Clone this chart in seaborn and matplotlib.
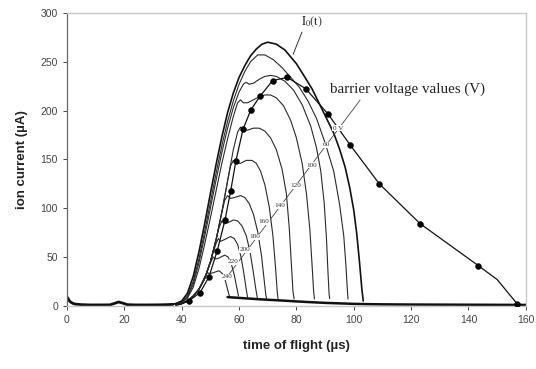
import matplotlib
matplotlib.use("Agg")
import matplotlib.pyplot as plt
import seaborn as sns

# flat baseline before the pulse (thick bundle of overlapping curves)
base_t = [0, 0.3, 1, 2, 3, 5, 8, 12, 15, 16.5, 18, 19.5, 21, 24, 28, 32, 35, 37]
base_y = [9, 8, 4.5, 2.6, 1.8, 1.3, 1.0, 1.0, 1.1, 2.5, 4.0, 2.8, 1.3, 1.0, 1.0, 1.1, 1.3, 1.6]

# common tail after the barrier cut-offs
tail_t = [56, 58, 60, 63, 66, 70, 75, 80, 85, 90, 95, 100, 105, 110, 120, 130, 140, 150, 160]
tail_y = [9, 8.6, 8.2, 7.6, 7.0, 6.3, 5.5, 4.6, 3.8, 3.1, 2.6, 2.1, 1.8, 1.6, 1.4, 1.3, 1.2, 1.1, 1.0]

# I0(t)
i0_t = [36, 38, 40, 42, 44, 46, 48, 50, 52, 54, 56, 58, 60, 62, 64, 66, 68, 70, 73, 76, 80, 83,
        85.5, 88, 91, 93, 95, 97, 98.6, 100, 101, 102, 102.8, 103.3]
i0_y = [1, 2.5, 5, 13, 30, 55, 84, 115, 145, 173, 198, 218, 234, 246, 256, 263, 268, 270, 268, 262,
        248, 234, 222, 207, 189, 177, 161, 142, 121, 98, 75, 45, 18, 5]

# barrier voltage curves, from 0 V to 240 V
c1_t = [38, 40, 42, 44, 46, 48, 50, 52, 54, 56, 58, 60, 62, 64, 66.5, 69, 72, 75, 78, 81, 84, 87,
        90, 93, 95, 96.5, 97.3, 97.8, 98]
c1_y = [2, 4, 10, 25, 48, 76, 106, 136, 164, 189, 210, 227, 240, 250, 257, 257, 252, 244, 234, 224,
        210, 192, 167, 138, 105, 72, 40, 15, 7]

c2_t = [38, 40, 42, 44, 46, 48, 50, 52, 54, 56, 58, 60, 61.5, 62.5, 63.5, 65, 67, 69, 71, 73, 76,
        79, 82, 85, 87, 88.5, 89.7, 90.5, 91, 91.4, 91.6]
c2_y = [1.5, 3.5, 9, 22, 44, 71, 100, 129, 157, 182, 203, 219, 227, 229, 227, 228, 232, 235, 236,
        235, 230, 221, 206, 184, 162, 138, 105, 68, 35, 12, 7.5]

c3_t = [38, 40, 42, 44, 46, 48, 50, 52, 54, 56, 58, 59.5, 60.5, 61.5, 63, 65, 67, 69, 71, 73, 75.5,
        78, 80, 82, 83.5, 84.7, 85.5, 86, 86.3]
c3_y = [1.5, 3, 8, 19, 38, 63, 90, 118, 146, 171, 194, 208, 211, 208, 208, 211, 214, 216, 216, 213,
        205, 190, 172, 146, 115, 78, 40, 15, 7]

c4_t = [38, 40, 42, 44, 46, 48, 50, 52, 54, 56, 58, 59.5, 60.5, 61.5, 63, 65, 67, 69, 71, 73, 75,
        76.5, 77.5, 78.3, 78.8, 79.2]
c4_y = [1, 2.5, 5, 10, 17, 28, 45, 68, 96, 128, 160, 178, 183, 180, 180, 182, 182, 179, 172, 160,
        140, 115, 80, 40, 15, 7]

c5_t = [38, 40, 42, 44, 46, 48, 50, 52, 54, 56, 57, 58, 59, 60.5, 62.5, 64.5, 66, 67.5, 69, 70.5,
        71.8, 72.7, 73.3, 73.6]
c5_y = [1, 2.5, 5, 10, 17, 28, 45, 68, 96, 128, 143, 149, 146, 146, 149, 149, 146, 138, 124, 102,
        72, 40, 15, 7]

c6_t = [38, 40, 42, 44, 46, 48, 50, 52, 54, 55, 56, 57, 58.5, 60.5, 62, 63.5, 65, 66.5, 67.8,
        68.7, 69.3, 69.6]
c6_y = [1, 2.5, 5, 10, 17, 28, 45, 68, 96, 108, 113, 110, 111, 113, 111, 105, 94, 76, 52, 28, 12, 7]

c7_t = [38, 40, 42, 44, 46, 48, 50, 52, 53, 54, 54.8, 56, 58, 59.5, 61, 62.5, 63.8, 64.9, 65.8, 66.4]
c7_y = [1, 2.5, 5, 10, 17, 28, 45, 68, 80, 87, 84, 85, 88, 87, 82, 72, 56, 36, 18, 8]

c8_t = [38, 40, 42, 44, 46, 48, 50, 51, 52, 52.8, 53.5, 55, 57, 58.3, 59.5, 60.7, 61.7, 62.5, 63]
c8_y = [1, 2.5, 5, 10, 17, 28, 45, 55, 64, 69, 66, 68, 71, 69, 63, 50, 33, 17, 8.5]

c9_t = [38, 40, 42, 44, 46, 48, 49, 50, 51, 51.8, 53, 55, 56.2, 57.3, 58.3, 59.2, 59.8]
c9_y = [1, 2.5, 5, 10, 17, 28, 36, 44, 50, 48, 49, 52, 50, 43, 32, 19, 10]

c10_t = [38, 40, 42, 44, 46, 47, 48, 49, 49.7, 51, 53, 54.2, 55.2, 56, 56.6]
c10_y = [1, 2.5, 5, 10, 17, 23, 30, 34, 33, 34, 36, 33, 26, 17, 10]

barrier_t = [c1_t, c2_t, c3_t, c4_t, c5_t, c6_t, c7_t, c8_t, c9_t, c10_t]
barrier_y = [c1_y, c2_y, c3_y, c4_y, c5_y, c6_y, c7_y, c8_y, c9_y, c10_y]

barrier_labels = ["0 V", "60", "100", "120", "140", "160", "180", "200", "220", "240"]
label_t = [94.5, 90.3, 85.4, 79.8, 74.2, 68.7, 65.5, 62.0, 57.9, 55.8]
label_y = [182, 165, 144, 123, 103, 86, 70.6, 57.3, 45, 29.7]

# curve with markers
dot_line_t = [38, 40, 42.6, 46.4, 49.5, 52.4, 55.1, 57.1, 58.9, 61.4, 64.1, 67.4, 71.7, 76.8, 83.2,
              91.0, 98.7, 108.9, 123.1, 143.4, 150, 157.1, 159]
dot_line_y = [0.5, 2, 5.4, 13.6, 29.7, 56.6, 88, 118, 148.5, 181, 200.7, 215, 230.7, 234, 222.5,
              196.6, 165, 125, 84.3, 41.3, 27, 1.7, 0.5]
dot_t = [42.6, 46.4, 49.5, 52.4, 55.1, 57.1, 58.9, 61.4, 64.1, 67.4, 71.7, 76.8, 83.2, 91.0, 98.7,
         108.9, 123.1, 143.4, 157.1]
dot_y = [5.4, 13.6, 29.7, 56.6, 88, 118, 148.5, 181, 200.7, 215, 230.7, 234, 222.5, 196.6, 165,
         125, 84.3, 41.3, 1.7]

x_ticks = [0, 20, 40, 60, 80, 100, 120, 140, 160]
y_ticks = [0, 50, 100, 150, 200, 250, 300]

sns.set_theme(style="white")
plt.rcParams['font.family'] = ['Liberation Sans', 'DejaVu Sans']
plt.rcParams['mathtext.fontset'] = 'stix'

fig = plt.figure(figsize=(5.36, 3.69), dpi=100)
ax = fig.add_axes([0.125, 0.171, 0.856, 0.794])

line_col = "#2a2a2a"
sns.lineplot(x=base_t, y=base_y, ax=ax, color="#111111", lw=2.0, sort=False, estimator=None)
sns.lineplot(x=tail_t, y=tail_y, ax=ax, color="#111111", lw=1.8, sort=False, estimator=None)
for bt, by in zip(barrier_t, barrier_y):
    sns.lineplot(x=bt, y=by, ax=ax, color=line_col, lw=0.8, sort=False, estimator=None)
sns.lineplot(x=i0_t, y=i0_y, ax=ax, color="#111111", lw=1.2, sort=False, estimator=None)
sns.lineplot(x=dot_line_t, y=dot_line_y, ax=ax, color="#111111", lw=0.9, sort=False, estimator=None)
sns.scatterplot(x=dot_t, y=dot_y, ax=ax, color="black", s=18, edgecolor="black", zorder=5)

# annotations
ax.annotate("", xy=(78.5, 255), xytext=(82.3, 283),
            arrowprops=dict(arrowstyle="-", color="#333333", lw=0.7))
ax.text(81.5, 284, r"$\mathrm{I_0(t)}$", fontsize=8.5, ha="left", va="bottom", color="#222222")
ax.text(91.8, 222, "barrier voltage values (V)", family=["Liberation Serif", "DejaVu Serif"],
        fontsize=10.8, ha="left", va="center", color="#222222")
ax.annotate("", xy=(55.8, 29.7), xytext=(102.8, 213),
            arrowprops=dict(arrowstyle="-", color="#444444", lw=0.6))
for lab, lt, ly in zip(barrier_labels, label_t, label_y):
    ax.text(lt, ly, lab, family=["Liberation Serif", "DejaVu Serif"], fontsize=5.2,
            ha="center", va="center", color="#333333", zorder=6,
            bbox=dict(boxstyle="square,pad=0.1", fc="white", ec="none"))

ax.set_xlim(0, 160)
ax.set_ylim(0, 300)
ax.set_xticks(x_ticks)
ax.set_yticks(y_ticks)
ax.tick_params(axis="both", labelsize=7.5, colors="#444444", length=3, width=0.7, direction="out",
               bottom=True, left=True)
ax.set_xlabel("time of flight (\u00b5s)", fontsize=9.5, fontweight="bold", labelpad=11, color="#222222")
ax.set_ylabel("ion current (\u00b5A)", fontsize=9.5, fontweight="bold", labelpad=9, color="#222222")

for side in ["top", "right", "bottom"]:
    ax.spines[side].set_color("#c8c8c8")
    ax.spines[side].set_linewidth(1.0)
ax.spines["left"].set_color("#666666")
ax.spines["left"].set_linewidth(0.9)

fig.savefig("out.png", dpi=100)
